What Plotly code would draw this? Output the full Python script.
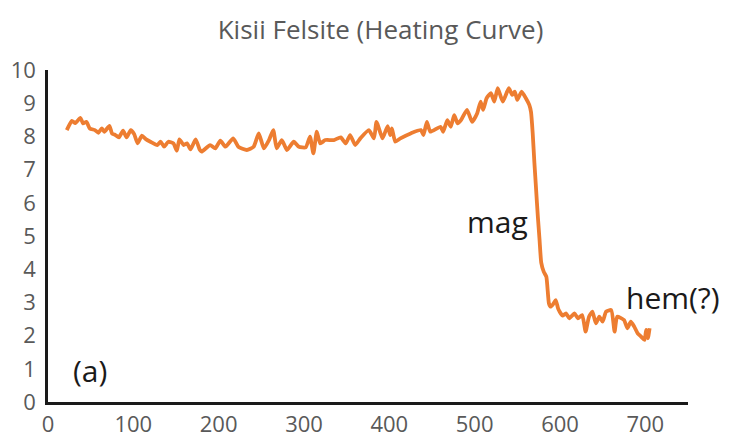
import plotly.graph_objects as go

temperature = [22, 28, 32, 38, 41, 45, 49, 55, 59, 63, 66, 72, 75, 79, 83, 88, 92, 97, 101, 105,
               110, 115, 120, 128, 132, 136, 141, 147, 151, 154, 159, 163, 167, 173, 178, 180, 190, 196, 202, 208,
               217, 223, 233, 241, 247, 253, 259, 264, 268, 274, 280, 288, 294, 302, 307, 311, 315, 319, 325, 335,
               343, 349, 354, 360, 366, 376, 382, 385, 392, 398, 401, 403, 407, 413, 425, 437, 440, 444, 448, 460,
               463, 468, 472, 476, 480, 484, 491, 497, 503, 507, 510, 514, 519, 523, 527, 533, 540, 544, 547, 550,
               555, 560, 564, 566, 568, 570, 572, 574, 576, 578, 581, 584, 587, 589, 592, 595, 598, 603, 607, 611,
               617, 621, 626, 630, 634, 638, 642, 646, 650, 654, 660, 664, 667, 675, 679, 683, 687, 691, 695, 699,
               701, 703, 705]
susceptibility = [8.19, 8.47, 8.40, 8.56, 8.39, 8.44, 8.24, 8.19, 8.11, 8.24, 8.14, 8.32, 8.09, 8.04, 7.97, 8.17, 7.97, 8.19, 8.07, 7.79,
                  8.02, 7.91, 7.84, 7.74, 7.84, 7.69, 7.84, 7.79, 7.57, 7.91, 7.74, 7.79, 7.61, 7.91, 7.59, 7.54, 7.74, 7.64, 7.87, 7.69,
                  7.94, 7.69, 7.59, 7.69, 8.09, 7.64, 7.89, 8.19, 7.64, 7.89, 7.59, 7.84, 7.69, 7.67, 7.99, 7.49, 8.14, 7.79, 7.89, 7.89,
                  7.97, 7.79, 8.04, 7.74, 7.94, 8.19, 7.94, 8.44, 7.94, 8.31, 8.04, 8.24, 7.84, 7.94, 8.09, 8.19, 8.04, 8.44, 8.14, 8.29,
                  8.14, 8.49, 8.29, 8.64, 8.39, 8.49, 8.80, 8.44, 8.70, 9.05, 8.80, 9.15, 9.30, 9.05, 9.45, 9.05, 9.45, 9.25, 9.35, 9.10,
                  9.35, 9.15, 8.95, 8.74, 8.10, 7.20, 6.40, 5.60, 4.90, 4.20, 3.92, 3.77, 2.97, 2.87, 2.95, 3.07, 2.80, 2.60, 2.67, 2.52,
                  2.67, 2.52, 2.62, 2.12, 2.57, 2.72, 2.37, 2.57, 2.42, 2.72, 2.77, 2.12, 2.57, 2.47, 2.22, 2.42, 2.27, 2.07, 1.97, 1.87,
                  2.17, 1.92, 2.22]

x_ticks = [0, 100, 200, 300, 400, 500, 600, 700]
y_ticks = [0, 1, 2, 3, 4, 5, 6, 7, 8, 9, 10]

title_text = "Kisii Felsite (Heating Curve)"
# (text, paper x, paper y, x anchor)
labels = [("mag", 0.753, 0.545, "right"), ("hem(?)", 1.053, 0.315, "right"), ("(a)", 0.036, 0.095, "left")]

fig = go.Figure()
fig.add_trace(go.Scatter(x=temperature, y=susceptibility, mode="lines",
                         line=dict(color="#ED7D31", width=3.8, shape="spline", smoothing=0.5),
                         showlegend=False, hoverinfo="skip"))

for text, ax_, ay_, anchor in labels:
    fig.add_annotation(text=text, x=ax_, y=ay_, xref="paper", yref="paper",
                       xanchor=anchor, yanchor="middle", showarrow=False,
                       font=dict(family="Open Sans, sans-serif", size=30, color="#1a1a1a"))

fig.update_layout(
    width=729, height=442,
    margin=dict(l=48, r=41, t=70, b=40, autoexpand=False),
    paper_bgcolor="white", plot_bgcolor="white",
    title=dict(text=title_text, x=0.522, xanchor="center", y=0.932, yanchor="middle",
               font=dict(family="Open Sans, sans-serif", size=26, color="#595959")),
    font=dict(family="Open Sans, sans-serif", color="#595959"),
)
fig.update_xaxes(range=[0, 750], tickvals=x_ticks, ticktext=[str(v) for v in x_ticks],
                 showgrid=False, zeroline=False, showline=True, linecolor="#1a1a1a", linewidth=2.5,
                 ticks="", ticklabelstandoff=1, automargin=False, tickfont=dict(size=22, color="#595959"))
fig.update_yaxes(range=[0, 10], tickvals=y_ticks, ticktext=[str(v) for v in y_ticks],
                 showgrid=False, zeroline=False, showline=True, linecolor="#1a1a1a", linewidth=2.5,
                 ticks="", ticklabelstandoff=5, automargin=False, tickfont=dict(size=22, color="#595959"))

fig.write_html("out.html")
